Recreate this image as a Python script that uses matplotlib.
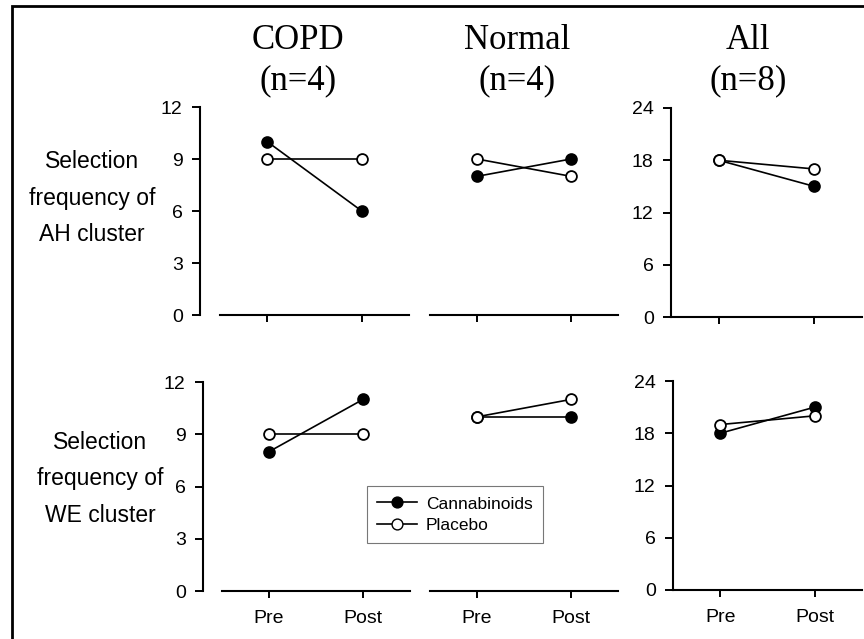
import numpy as np
import matplotlib
matplotlib.use("Agg")
import matplotlib.pyplot as plt
from matplotlib.patches import Rectangle
from matplotlib.lines import Line2D

plt.rcParams['font.family'] = ['Liberation Sans', 'DejaVu Sans']

# data
phases = ["Pre", "Post"]
groups = ["COPD\n(n=4)", "Normal\n(n=4)", "All\n(n=8)"]
row_labels = ["Selection\nfrequency of\nAH cluster", "Selection\nfrequency of\nWE cluster"]

cann_ah = [[10, 6], [8, 9], [18, 15]]
plac_ah = [[9, 9], [9, 8], [18, 17]]
cann_we = [[8, 11], [10, 10], [18, 21]]
plac_we = [[9, 9], [10, 11], [19, 20]]

W, H = 864, 639
fig = plt.figure(figsize=(W / 100, H / 100), dpi=100)


def px_axes(x0, x1, ytop, ybot):
    return fig.add_axes([x0 / W, 1 - ybot / H, (x1 - x0) / W, (ybot - ytop) / H])


# pixel boxes: (x0, x1, ytop, ybot, left spine offset px, show left)
boxes = [
    [(220, 409, 107, 315, 20, True), (430, 618, 107, 315, 0, False), (671, 862, 108, 317, 0, True)],
    [(222, 410, 382, 591, 19, True), (430, 618, 382, 591, 0, False), (673, 862, 381, 590, 0, True)],
]
cann = [cann_ah, cann_we]
plac = [plac_ah, plac_we]
x = np.arange(len(phases))

for r in range(2):
    for c in range(3):
        x0, x1, yt, yb, off, showleft = boxes[r][c]
        ax = px_axes(x0, x1, yt, yb)
        ax.plot(x, cann[r][c], '-o', color='black', lw=1.2, ms=7.8,
                mfc='black', mec='black', mew=1.3, clip_on=False, zorder=3)
        ax.plot(x, plac[r][c], '-o', color='black', lw=1.2, ms=7.8,
                mfc='white', mec='black', mew=1.3, clip_on=False, zorder=4)
        ax.set_xlim(-0.5, 1.5)
        top = 24 if c == 2 else 12
        ax.set_ylim(0, top)
        ax.patch.set_visible(False)
        for s in ['top', 'right']:
            ax.spines[s].set_visible(False)
        ax.spines['bottom'].set_linewidth(1.5)
        ax.spines['left'].set_linewidth(1.5)
        if showleft:
            ax.spines['left'].set_position(('outward', off * 0.72))
            ax.set_yticks(np.linspace(0, top, 5))
            ax.set_yticklabels([str(int(v)) for v in np.linspace(0, top, 5)])
        else:
            ax.spines['left'].set_visible(False)
            ax.set_yticks([])
        ax.set_xticks(x)
        if r == 1:
            ax.set_xticklabels(phases)
        else:
            ax.set_xticklabels([])
        ax.tick_params(axis='y', direction='out', length=5.5, width=1.4, labelsize=14, pad=7)
        ax.tick_params(axis='x', direction='out', length=5, width=1.4, labelsize=14, pad=9)
        if r == 0:
            cx = [298, 517, 748][c]
            fig.text(cx / W, 1 - 61 / H, groups[c], ha='center', va='center',
                     fontsize=25, family='Liberation Serif', linespacing=1.3)

fig.text(92 / W, 1 - 198 / H, row_labels[0], ha='center', va='center',
         fontsize=16.5, linespacing=1.75)
fig.text(100 / W, 1 - 479 / H, row_labels[1], ha='center', va='center',
         fontsize=16.5, linespacing=1.75)

handles = [
    Line2D([], [], color='black', lw=1.2, marker='o', ms=7.8, mfc='black', mec='black'),
    Line2D([], [], color='black', lw=1.2, marker='o', ms=7.8, mfc='white', mec='black'),
]
leg = fig.legend(handles, ["Cannabinoids", "Placebo"], loc='upper left',
                 bbox_to_anchor=(367 / W, 1 - 486 / H), fontsize=12.5,
                 frameon=True, fancybox=False, borderaxespad=0, numpoints=1,
                 handlelength=2.3, handletextpad=0.5, labelspacing=0.35,
                 borderpad=0.6)
leg.get_frame().set_edgecolor('#555555')
leg.get_frame().set_linewidth(0.8)

fig.add_artist(Rectangle((12 / W, -0.1), 1.2, 1 - 6 / H + 0.1,
                         transform=fig.transFigure, fill=False,
                         edgecolor='black', lw=2))

fig.savefig("out.png", dpi=100)
